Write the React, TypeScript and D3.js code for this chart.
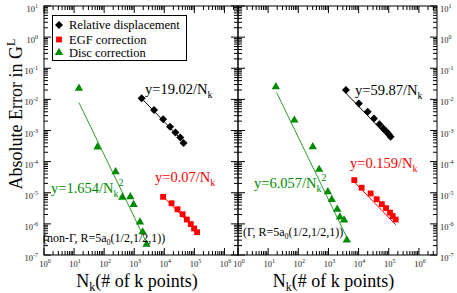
import * as d3 from "d3";

// ---- data ----
// left panel: non-Gamma
const ngDispN = [1760, 4570, 9120, 15500, 23400, 33900, 43700];
const ngDispErr = [0.0108, 0.00453, 0.00228, 0.00132, 0.00087, 0.0006, 0.0004];
const ngEgfN = [9120, 17400, 27500, 40700, 56200, 75900, 97700, 123000];
const ngEgfErr = [7.4e-6, 4.6e-6, 2.95e-6, 2.04e-6, 1.38e-6, 9.8e-7, 7.1e-7, 5.4e-7];
const ngDiscN = [14.5, 60, 240, 400, 740, 955, 1550, 1900, 2570];
const ngDiscErr = [0.0226, 2.95e-4, 4.7e-5, 7.1e-6, 7.4e-6, 4.2e-6, 1.15e-6, 5.5e-7, 2.2e-7];

// right panel: Gamma
const gDispN = [3800, 10200, 20000, 32400, 49000, 66000, 83000, 100000, 115000];
const gDispErr = [0.02, 0.0074, 0.004, 0.00245, 0.00158, 0.00117, 0.00093, 0.00076, 0.00063];
const gEgfN = [7200, 12600, 25100, 39800, 58900, 81300, 110000, 135000, 170000];
const gEgfErr = [2.54e-5, 1.45e-5, 9.5e-6, 6.2e-6, 4.3e-6, 3.2e-6, 2.3e-6, 1.78e-6, 1.38e-6];
const gDiscN = [18, 74, 302, 490, 955, 1290, 1950, 2400, 3300, 4070];
const gDiscErr = [0.0254, 0.00214, 3.0e-4, 5.6e-5, 1.07e-5, 6.0e-6, 2.95e-6, 1.66e-6, 1.32e-6, 3.0e-7];

// fits y = c / N^p, drawn over [from, to]
const ngFitCoef = [19.02, 0.07, 1.654];
const ngFitPow = [1, 1, 2];
const ngFitRange = [[1760, 43700], [9120, 123000], [14.5, 2900]];
const gFitCoef = [59.87, 0.159, 6.057];
const gFitPow = [1, 1, 2];
const gFitRange = [[3800, 115000], [7200, 170000], [19, 4600]];

const legendLabels = ["Relative displacement", "EGF correction", "Disc correction"];

const GREEN = "#008a00";
const GREEN_LINE = "#2e9e2e";
const RED = "#ff0000";
const COLORS = ["#000", RED, GREEN];
const SERIF = "'Liberation Serif', 'Times New Roman', serif";

const yTop = 6;
const yBot = 255;
const y = d3.scaleLog().domain([1e-7, 10]).range([yBot, yTop]);

const isMajor = (t: number) => Math.abs(Math.log10(t) - Math.round(Math.log10(t))) < 1e-6;

function Pow10({ x, yy, e, anchor }: { x: number; yy: number; e: number; anchor: string }) {
  return (
    <text x={x} y={yy} fontSize={8.5} fontFamily={SERIF} fill="#222" textAnchor={anchor}>
      10<tspan dy={-4} fontSize={6}>{e}</tspan>
    </text>
  );
}

function marker(kind: number) {
  if (kind === 0) return d3.symbol(d3.symbolSquare, 32)()!;
  if (kind === 1) return d3.symbol(d3.symbolSquare, 34)()!;
  return d3.symbol(d3.symbolTriangle, 30)()!;
}

type PanelProps = {
  x: d3.ScaleLogarithmic<number, number>;
  series: [number[], number[]][];
  coef: number[];
  pow: number[];
  range: number[][];
  yLabelsRight: boolean;
};

function Panel({ x, series, coef, pow, range, yLabelsRight }: PanelProps) {
  const [x0, x1] = x.range();
  const xt = x.ticks().filter((t) => t >= 1 && t <= x.domain()[1]);
  const yt = y.ticks();
  const line = d3
    .line<[number, number]>()
    .x((d) => x(d[0]))
    .y((d) => y(d[1]));
  return (
    <g>
      {/* fit lines */}
      {coef.map((c, i) => {
        const pts: [number, number][] = range[i].map((n) => [n, c / Math.pow(n, pow[i])]);
        return (
          <path
            key={"f" + i}
            d={line(pts)!}
            fill="none"
            stroke={i === 2 ? GREEN_LINE : COLORS[i]}
            strokeWidth={1}
          />
        );
      })}
      {/* markers */}
      {series.map(([ns, es], k) =>
        ns.map((n, j) => (
          <path
            key={k + "-" + j}
            d={marker(k)}
            transform={`translate(${x(n)},${y(es[j])})${k === 0 ? " rotate(45)" : ""}`}
            fill={COLORS[k]}
          />
        ))
      )}
      {/* frame */}
      <rect x={x0} y={yTop} width={x1 - x0} height={yBot - yTop} fill="none" stroke="#000" strokeWidth={1} />
      {xt.map((t, i) => {
        const L = isMajor(t) ? 7 : 4;
        const px = x(t);
        return (
          <g key={"xt" + i} stroke="#000" strokeWidth={1}>
            <line x1={px} x2={px} y1={yBot} y2={yBot - L} />
            <line x1={px} x2={px} y1={yTop} y2={yTop + L} />
          </g>
        );
      })}
      {yt.map((t, i) => {
        const L = isMajor(t) ? 7 : 4;
        const py = y(t);
        return (
          <g key={"yt" + i} stroke="#000" strokeWidth={1}>
            <line x1={x0} x2={x0 + L} y1={py} y2={py} />
            <line x1={x1} x2={x1 - L} y1={py} y2={py} />
          </g>
        );
      })}
      {xt.filter(isMajor).map((t, i) => (
        <Pow10 key={"xl" + i} x={x(t) + 1} yy={267} e={Math.round(Math.log10(t))} anchor="middle" />
      ))}
      {yt.filter(isMajor).map((t, i) => (
        <Pow10
          key={"yl" + i}
          x={yLabelsRight ? x1 + 3 : x0 - 6}
          yy={y(t) + 6}
          e={Math.round(Math.log10(t))}
          anchor={yLabelsRight ? "start" : "end"}
        />
      ))}
      <text x={(x0 + x1) / 2 - 4} y={287} fontSize={18} fontFamily={SERIF} textAnchor="middle">
        N<tspan dy={4} fontSize={12}>k</tspan>
        <tspan dy={-4}>(# of k points)</tspan>
      </text>
    </g>
  );
}

function FitLabel({ x, yy, coef, pow, color }: { x: number; yy: number; coef: number; pow: number; color: string }) {
  return (
    <text x={x} y={yy} fontSize={14.5} fontFamily={SERIF} fill={color}>
      y={coef}/N<tspan dy={4} fontSize={10}>k</tspan>
      {pow > 1 ? (
        <tspan dy={-11} fontSize={10}>
          {pow}
        </tspan>
      ) : null}
    </text>
  );
}

export default function App() {
  const xL = d3.scaleLog().domain([1, Math.pow(10, 6.45)]).range([44, 238]);
  const xR = d3.scaleLog().domain([1, Math.pow(10, 6.6)]).range([238, 437]);
  return (
    <svg width={457} height={293} style={{ position: "absolute", left: 0, top: 0, background: "#fff" }}>
      <Panel
        x={xL}
        series={[
          [ngDispN, ngDispErr],
          [ngEgfN, ngEgfErr],
          [ngDiscN, ngDiscErr],
        ]}
        coef={ngFitCoef}
        pow={ngFitPow}
        range={ngFitRange}
        yLabelsRight={false}
      />
      <Panel
        x={xR}
        series={[
          [gDispN, gDispErr],
          [gEgfN, gEgfErr],
          [gDiscN, gDiscErr],
        ]}
        coef={gFitCoef}
        pow={gFitPow}
        range={gFitRange}
        yLabelsRight={true}
      />
      {/* fit labels */}
      <FitLabel x={145} yy={94} coef={ngFitCoef[0]} pow={ngFitPow[0]} color="#000" />
      <FitLabel x={155} yy={182} coef={ngFitCoef[1]} pow={ngFitPow[1]} color={RED} />
      <FitLabel x={51} yy={193} coef={ngFitCoef[2]} pow={ngFitPow[2]} color={GREEN} />
      <FitLabel x={355} yy={95} coef={gFitCoef[0]} pow={gFitPow[0]} color="#000" />
      <FitLabel x={350} yy={168} coef={gFitCoef[1]} pow={gFitPow[1]} color={RED} />
      <FitLabel x={254} yy={188} coef={gFitCoef[2]} pow={gFitPow[2]} color={GREEN} />
      <text x={43} y={242} fontSize={12} fontFamily={SERIF}>
        (non-Γ, R=5a<tspan dy={3} fontSize={8}>0</tspan>
        <tspan dy={-3}>(1/2,1/2,1))</tspan>
      </text>
      <text x={243} y={236} fontSize={12} fontFamily={SERIF}>
        (Γ, R=5a<tspan dy={3} fontSize={8}>0</tspan>
        <tspan dy={-3}>(1/2,1/2,1))</tspan>
      </text>
      {/* legend */}
      <g>
        <rect x={52.5} y={15.5} width={134} height={45} fill="#fff" stroke="#000" strokeWidth={1} />
        {legendLabels.map((lab, i) => (
          <g key={lab}>
            <path
              d={marker(i)}
              transform={`translate(59,${[25, 39.5, 52.5][i]})${i === 0 ? " rotate(45)" : ""}`}
              fill={COLORS[i]}
            />
            <text x={69} y={[28.5, 43.5, 56.5][i]} fontSize={12.5} fontFamily={SERIF}>
              {lab}
            </text>
          </g>
        ))}
      </g>
      {/* y axis title */}
      <text
        transform="translate(22,114) rotate(-90)"
        fontSize={18}
        fontFamily={SERIF}
        textAnchor="middle"
      >
        Absolute Error in G<tspan dy={-7} fontSize={12}>L</tspan>
      </text>
    </svg>
  );
}
